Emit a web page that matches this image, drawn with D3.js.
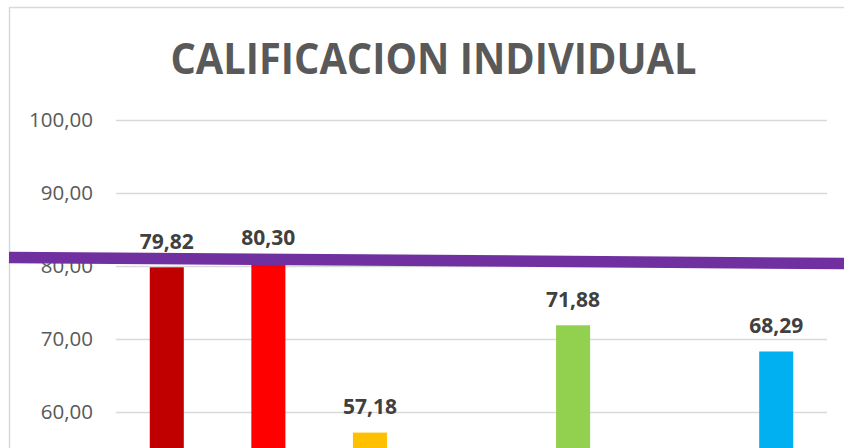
<!DOCTYPE html>
<html>
<head>
<meta charset="utf-8">
<script src="https://cdn.jsdelivr.net/npm/d3@7"></script>
<style>
  html, body { margin: 0; padding: 0; background: #ffffff; }
  svg { display: block; }
</style>
</head>
<body>
<div id="chart"></div>
<script>
// ---- data ----
const title = "CALIFICACION INDIVIDUAL";
const categories = ["C1", "C2", "C3", "C4", "C5", "C6", "C7"];
const values = [79.82, 80.30, 57.18, null, 71.88, null, 68.29];
const barColors = ["#C00000", "#FF0000", "#FFC000", "#7F7F7F", "#92D050", "#7F7F7F", "#00B0F0"];
const tickValues = [60, 70, 80, 90, 100];
const referenceLine = [81.16, 80.34]; // values at chart's left and right edges

// ---- layout ----
const W = 844, H = 448;
const plotLeft = 116, plotRight = 827;
const fmt = v => d3.format(".2f")(v).replace(".", ",");

const svg = d3.select("#chart").append("svg")
  .attr("width", W).attr("height", H);

svg.append("rect").attr("width", W).attr("height", H).attr("fill", "#ffffff");

// chart border
svg.append("rect")
  .attr("x", 9.5).attr("y", 7.5)
  .attr("width", W + 20).attr("height", H + 20)
  .attr("fill", "none").attr("stroke", "#d9d9d9").attr("stroke-width", 1.5);

const x = d3.scaleBand()
  .domain(categories)
  .range([plotLeft, plotRight])
  .paddingInner(0.665)
  .paddingOuter(0.3325);

const y = d3.scaleLinear().domain([0, 100]).range([850, 120]);

// title
svg.append("text")
  .attr("x", 433.5).attr("y", 73.5)
  .attr("text-anchor", "middle")
  .attr("font-family", "'Open Sans', sans-serif")
  .attr("font-weight", 700)
  .attr("font-size", 43)
  .attr("fill", "#595959")
  .attr("textLength", 526)
  .attr("lengthAdjust", "spacingAndGlyphs")
  .text(title);

// gridlines + tick labels via axis
const axis = d3.axisLeft(y)
  .tickValues(tickValues)
  .tickSize(-(plotRight - plotLeft))
  .tickPadding(23)
  .tickFormat(fmt);

const gAxis = svg.append("g")
  .attr("transform", `translate(${plotLeft},0)`)
  .call(axis);
gAxis.select(".domain").remove();
gAxis.selectAll(".tick line")
  .attr("stroke", "#d9d9d9").attr("stroke-width", 1.5);
gAxis.selectAll(".tick text")
  .attr("font-family", "'Open Sans', sans-serif")
  .attr("font-size", 20.5)
  .attr("fill", "#595959");

// bars
const data = categories.map((c, i) => ({ c, v: values[i], color: barColors[i] }))
  .filter(d => d.v != null);

svg.append("g").selectAll("rect")
  .data(data)
  .join("rect")
  .attr("x", d => x(d.c))
  .attr("width", x.bandwidth())
  .attr("y", d => y(d.v))
  .attr("height", d => y(0) - y(d.v))
  .attr("fill", d => d.color);

// data labels
svg.append("g").selectAll("text")
  .data(data)
  .join("text")
  .attr("x", d => x(d.c) + x.bandwidth() / 2)
  .attr("y", d => y(d.v) - 18.5)
  .attr("text-anchor", "middle")
  .attr("font-family", "'Open Sans', sans-serif")
  .attr("font-weight", 700)
  .attr("font-size", 21)
  .attr("fill", "#404040")
  .text(d => fmt(d.v));

// purple reference line
svg.append("line")
  .attr("x1", 9).attr("x2", W)
  .attr("y1", y(referenceLine[0]))
  .attr("y2", y(referenceLine[1]))
  .attr("stroke", "#7030A0")
  .attr("stroke-width", 11.5);
</script>
</body>
</html>
